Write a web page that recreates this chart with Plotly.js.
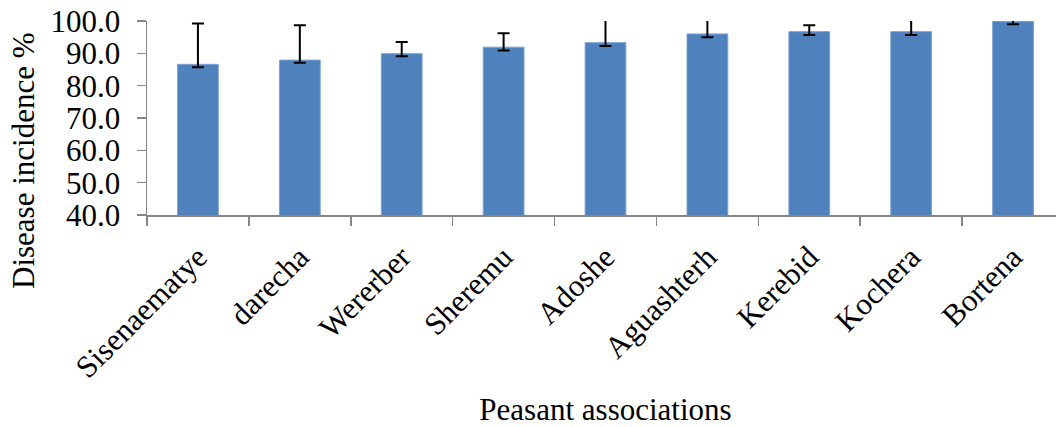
<!DOCTYPE html>
<html>
<head>
<meta charset="utf-8">
<script src="https://cdn.plot.ly/plotly-3.0.1.min.js"></script>
<style>
html, body { margin: 0; padding: 0; overflow: hidden; background: #fff; }
#chart { width: 1070px; height: 427px; }
</style>
</head>
<body>
<div id="chart"></div>
<script>
const categories = ["Sisenaematye", "darecha", "Wererber", "Sheremu", "Adoshe", "Aguashterh", "Kerebid", "Kochera", "Bortena"];
const incidence = [86.6, 87.9, 89.9, 91.9, 93.3, 96.0, 96.7, 96.7, 99.9];
const errPlus = [12.6, 10.8, 3.6, 4.3, 8.0, 5.0, 2.0, 5.0, 2.0];
const errMinus = [0.9, 0.8, 0.8, 1.0, 1.0, 1.0, 1.0, 1.0, 0.9];
const yTicks = [40, 50, 60, 70, 80, 90, 100];
const yTickLabels = ["40.0", "50.0", "60.0", "70.0", "80.0", "90.0", "100.0"];

const FONT = "Liberation Serif, Times New Roman, serif";
const FS = 31;

const trace = {
  type: "bar",
  x: categories,
  y: incidence,
  marker: { color: "#4F81BD", line: { color: "#7EA2CF", width: 1 } },
  error_y: {
    type: "data",
    symmetric: false,
    array: errPlus,
    arrayminus: errMinus,
    color: "#000000",
    thickness: 2,
    width: 6
  },
  hoverinfo: "x+y"
};

const layout = {
  width: 1070,
  height: 427,
  margin: { l: 147, r: 6, t: 21, b: 212 },
  paper_bgcolor: "#ffffff",
  plot_bgcolor: "#ffffff",
  showlegend: false,
  bargap: 0.6,
  font: { family: FONT, size: FS, color: "#000000" },
  xaxis: {
    type: "category",
    tickangle: -45,
    tickson: "boundaries",
    ticks: "outside",
    ticklen: 9,
    tickcolor: "#868686",
    tickwidth: 1.5,
    showline: true,
    linecolor: "#868686",
    linewidth: 1.5,
    showgrid: false,
    ticklabelstandoff: 10,
    tickfont: { family: FONT, size: FS, color: "#000" },
    title: { text: "Peasant associations", font: { family: FONT, size: FS, color: "#000" }, standoff: 18 }
  },
  yaxis: {
    range: [40, 100],
    tickvals: yTicks,
    ticktext: yTickLabels,
    ticks: "outside",
    ticklen: 9,
    tickcolor: "#868686",
    tickwidth: 1.5,
    showline: true,
    linecolor: "#868686",
    linewidth: 1.5,
    showgrid: false,
    zeroline: false,
    ticklabelstandoff: 10,
    tickfont: { family: FONT, size: FS, color: "#000" }
  },
  annotations: [{
    text: "Disease incidence %",
    textangle: -90,
    xref: "paper", yref: "paper",
    x: -147/917 + 23/917, y: (215 - 161) / 194,
    xanchor: "center", yanchor: "middle",
    showarrow: false,
    font: { family: FONT, size: FS, color: "#000" }
  }]
};

Plotly.newPlot("chart", [trace], layout, { displayModeBar: false, staticPlot: true });
</script>
</body>
</html>
